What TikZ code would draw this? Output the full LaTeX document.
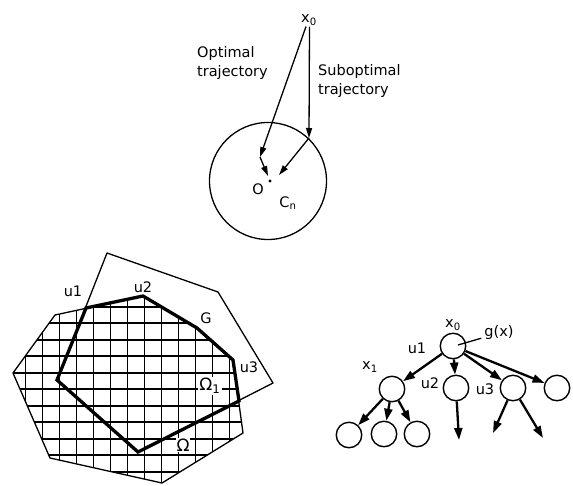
\documentclass[tikz,border=0pt]{standalone}
\usepackage{fontspec}
\setmainfont{DejaVu Sans}
\usetikzlibrary{arrows.meta}

\begin{document}
\begin{tikzpicture}[x=1pt,y=-1pt,
  lbl/.style={inner sep=1pt, font=\fontsize{14.5}{20}\selectfont},
  big/.style={inner sep=1pt, font=\fontsize{17}{20}\selectfont},
  para/.style={inner sep=0pt, align=left, anchor=north west, font=\fontsize{14.5}{19.5}\selectfont},
  tarr/.style={line width=1.3pt, -{Triangle[length=10pt,width=6pt]}},
  bnd/.style={line width=1.3pt, line join=round},
  hatch/.style={line width=1.9pt},
  rim/.style={line width=3.3pt, line join=miter},
  tnode/.style={circle, draw, line width=1.4pt, minimum size=25.5pt, inner sep=0pt},
  tarrow/.style={line width=2.3pt, -{Triangle[length=12pt,width=8pt]}}
]
\useasboundingbox (0,0) rectangle (573,485);

% ---------- trajectories into the terminal circle ----------
\node[lbl] (x0) at (309,20) {x\textsubscript{0}};
\node[para] (opt) at (197,46) {Optimal\\trajectory};
\node[para] (sub) at (318,64) {Suboptimal\\trajectory};
\node[circle, draw, line width=1.3pt, minimum size=117pt, inner sep=0pt] (cn) at (268,181) {};
\fill (270,181) circle (1.7);
\node[lbl] (o) at (258,189) {O};
\node[lbl] (cnl) at (288,203) {C\textsubscript{n}};
\coordinate (ok) at (260,157);
\coordinate (oend) at (268,176);
\coordinate (sk) at (309,138);
\coordinate (send) at (279,175);
\draw[tarr] ([xshift=-3pt]x0.south) -- (ok);
\draw[tarr] (ok) -- (oend);
\draw[tarr] ([xshift=0.5pt]x0.south) -- (sk);
\draw[tarr] (sk) -- (send);

% ---------- admissible region with its grid ----------
\begin{scope}
  \clip (13,373) -- (55,315) -- (143,296) -- (197,328) -- (233,360)
        -- (243,433) -- (162,483) -- (50,458) -- cycle;
  \foreach \i in {0,...,13}
    \draw[hatch] (25.5+17*\i, 280) -- (25.5+17*\i, 490);
  \foreach \j in {0,...,10}
    \draw[hatch] (0, 306.7+16.5*\j) -- (260, 306.7+16.5*\j);
\end{scope}
\draw[bnd] (13,373) -- (55,315) -- (143,296) -- (197,328) -- (233,360)
      -- (243,433) -- (162,483) -- (50,458) -- cycle;
% region G
\draw[bnd] (107,253) -- (218,292) -- (273,383) -- (138,452) -- (57,380) -- cycle;
% intersection Omega_1
\draw[rim] (57,380) -- (86,308) -- (143,296) -- (197,328) -- (233,360)
      -- (239,401) -- (138,452) -- cycle;

\node[lbl] (u1) at (73,291) {u1};
\node[lbl] (u2) at (143,287) {u2};
\node[lbl] (g) at (206,318) {G};
\node[lbl] (u3) at (249,367) {u3};
\node[big, fill=white, inner sep=1.5pt] (om1) at (210,386) {Ω\textsubscript{1}};
\node[big, fill=white, inner sep=1pt] (om) at (183,445) {Ω};

% ---------- search tree ----------
\node[tnode] (root) at (453,346) {};
\node[tnode] (c1) at (392,389) {};
\node[tnode] (c2) at (456,388) {};
\node[tnode] (c3) at (513,388) {};
\node[tnode] (c4) at (557,388) {};
\node[tnode] (g1) at (349,435) {};
\node[tnode] (g2) at (384,434) {};
\node[tnode] (g3) at (417,434) {};
\coordinate (d2) at (459,440);
\coordinate (d3a) at (493,433);
\coordinate (d3b) at (543,438);

\node[lbl] (tx0) at (453,325) {x\textsubscript{0}};
\node[lbl] (gx) at (499,333) {g(x)};
\node[lbl] (tu1) at (417,348) {u1};
\node[lbl] (tx1) at (370,367) {x\textsubscript{1}};
\node[lbl] (tu2) at (430,383) {u2};
\node[lbl] (tu3) at (485,389) {u3};
\draw[line width=1.3pt] ([xshift=5pt,yshift=1pt]root.center) -- ([xshift=-2pt,yshift=3pt]gx.south west);

\draw[tarrow] (root) -- (c1);
\draw[tarrow] (root) -- (c2);
\draw[tarrow] (root) -- (c3);
\draw[tarrow] (root) -- (c4);
\draw[tarrow] (c1) -- (g1);
\draw[tarrow] (c1) -- (g2);
\draw[tarrow] (c1) -- (g3);
\draw[tarrow] (c2) -- (d2);
\draw[tarrow] (c3) -- (d3a);
\draw[tarrow] (c3) -- (d3b);
\end{tikzpicture}
\end{document}
